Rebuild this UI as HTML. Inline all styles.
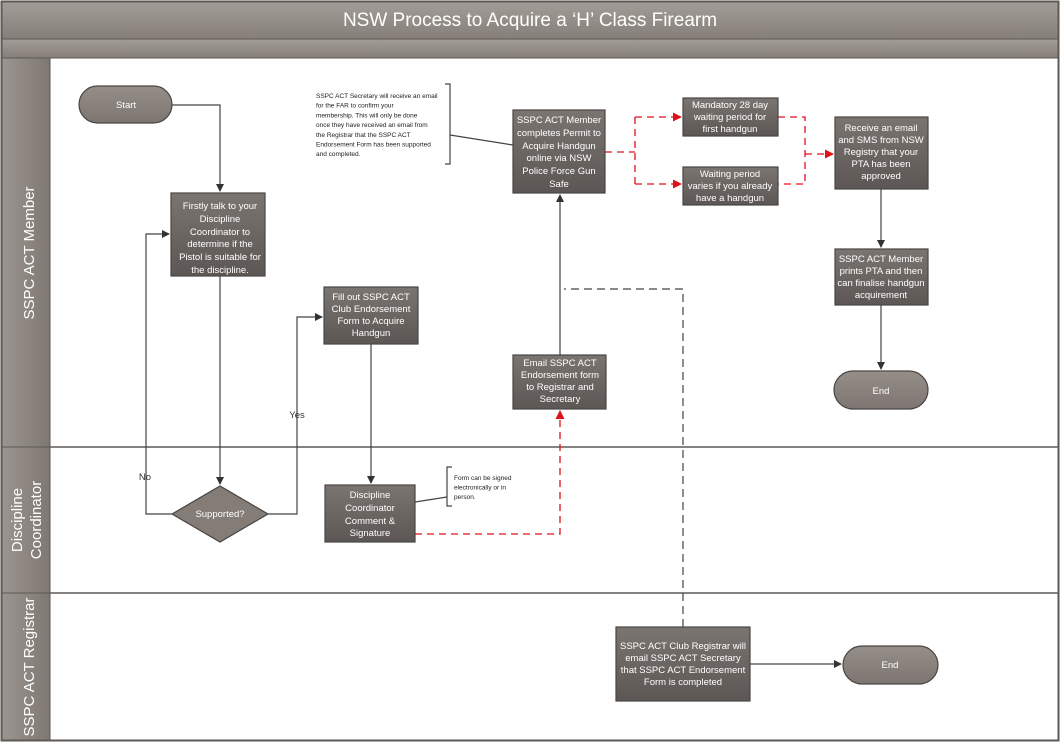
<!DOCTYPE html>
<html><head><meta charset="utf-8"><style>
html,body{margin:0;padding:0;background:#fff;}
svg{display:block;font-family:"Liberation Sans",sans-serif;}
.bt{fill:#fff;font-size:9.5px;text-anchor:middle;}
.an{fill:#222;font-size:6.5px;}
</style></head><body>
<svg width="1060" height="742" viewBox="0 0 1060 742" xmlns="http://www.w3.org/2000/svg">
<defs>
<linearGradient id="hd" x1="0" y1="0" x2="0" y2="1"><stop offset="0" stop-color="#a39d98"/><stop offset="1" stop-color="#857e79"/></linearGradient>
<linearGradient id="ln" x1="0" y1="0" x2="1" y2="0"><stop offset="0" stop-color="#9c958f"/><stop offset="1" stop-color="#7f7872"/></linearGradient>
<linearGradient id="bx" x1="0" y1="0" x2="0" y2="1"><stop offset="0" stop-color="#7b7571"/><stop offset="1" stop-color="#5c5754"/></linearGradient>
<linearGradient id="pl" x1="0" y1="0" x2="0" y2="1"><stop offset="0" stop-color="#958e89"/><stop offset="1" stop-color="#7c7570"/></linearGradient>
<marker id="a" markerWidth="8" markerHeight="8" refX="7" refY="4" orient="auto" markerUnits="userSpaceOnUse"><path d="M0,0 L8,4 L0,8z" fill="#333"/></marker>
<marker id="r" markerWidth="9" markerHeight="9" refX="8" refY="4.5" orient="auto" markerUnits="userSpaceOnUse"><path d="M0,0 L9,4.5 L0,9z" fill="#e0101a"/></marker>
</defs>
<rect x="1.5" y="1.5" width="1057" height="739" fill="#fff" stroke="#5e5955" stroke-width="2"/>
<rect x="2" y="2" width="1056" height="37" fill="url(#hd)" stroke="#5e5955"/>
<text x="530" y="26" fill="#fff" font-size="19" text-anchor="middle">NSW Process to Acquire a ‘H’ Class Firearm</text>
<rect x="2" y="39" width="1056" height="19" fill="url(#hd)" stroke="#5e5955"/>
<rect x="2" y="58" width="48" height="389" fill="url(#ln)" stroke="#5e5955"/>
<rect x="2" y="447" width="48" height="146" fill="url(#ln)" stroke="#5e5955"/>
<rect x="2" y="593" width="48" height="147" fill="url(#ln)" stroke="#5e5955"/>
<line x1="50" y1="447" x2="1058" y2="447" stroke="#5e5955" stroke-width="1.5"/>
<line x1="50" y1="593" x2="1058" y2="593" stroke="#5e5955" stroke-width="1.5"/>
<text transform="translate(34,253) rotate(-90)" fill="#fff" font-size="15" text-anchor="middle">SSPC ACT Member</text>
<text transform="translate(22,520) rotate(-90)" fill="#fff" font-size="15" text-anchor="middle">Discipline</text>
<text transform="translate(41,520) rotate(-90)" fill="#fff" font-size="15" text-anchor="middle">Coordinator</text>
<text transform="translate(34,667) rotate(-90)" fill="#fff" font-size="15" text-anchor="middle">SSPC ACT Registrar</text>

<!-- connectors -->
<g fill="none" stroke="#444" stroke-width="1.2">
<path d="M172,105 H220 V191" marker-end="url(#a)"/>
<path d="M220,276 V484" marker-end="url(#a)"/>
<path d="M172,514 H146 V234 H169" marker-end="url(#a)"/>
<path d="M268,514 H297 V317 H322" marker-end="url(#a)"/>
<path d="M371,344 V483" marker-end="url(#a)"/>
<path d="M560,355 V195" marker-end="url(#a)"/>
<path d="M881,189 V247" marker-end="url(#a)"/>
<path d="M881,305 V369" marker-end="url(#a)"/>
<path d="M750,664 H841" marker-end="url(#a)"/>
<path d="M450,135 L513,145"/>
<path d="M415,502 L447,497"/>
<path d="M445,84 H450 V164 H445"/>
<path d="M452,467 H447 V506 H452"/>
<path d="M683,627 V289 H564" stroke-dasharray="8,5"/>
</g>
<g fill="none" stroke="#e0101a" stroke-width="1.3" stroke-dasharray="7,5">
<path d="M415,534 H560 V411" marker-end="url(#r)"/>
<path d="M605,152 H635"/>
<path d="M635,117 V184"/>
<path d="M635,117 H681" marker-end="url(#r)"/>
<path d="M635,184 H681" marker-end="url(#r)"/>
<path d="M778,117 H805 V184 H778"/>
<path d="M805,154 H833" marker-end="url(#r)"/>
</g>
<text x="145" y="480" fill="#333" font-size="9.5" text-anchor="middle">No</text>
<text x="297" y="418" fill="#333" font-size="9.5" text-anchor="middle">Yes</text>

<!-- shapes -->
<g stroke="#4a4644" stroke-width="1.2">
<rect x="79" y="86" width="93" height="37" rx="18.5" fill="url(#pl)"/>
<rect x="834" y="371" width="94" height="38" rx="19" fill="url(#pl)"/>
<rect x="843" y="646" width="95" height="38" rx="19" fill="url(#pl)"/>
<rect x="171" y="193" width="94" height="83" fill="url(#bx)"/>
<path d="M172,514 L220,486 L268,514 L220,542z" fill="#837c77"/>
<rect x="324" y="287" width="94" height="57" fill="url(#bx)"/>
<rect x="325" y="485" width="90" height="57" fill="url(#bx)"/>
<rect x="513" y="355" width="93" height="54" fill="url(#bx)"/>
<rect x="513" y="110" width="92" height="83" fill="url(#bx)"/>
<rect x="683" y="98" width="95" height="38" fill="url(#bx)"/>
<rect x="683" y="167" width="95" height="38" fill="url(#bx)"/>
<rect x="835" y="117" width="93" height="72" fill="url(#bx)"/>
<rect x="835" y="249" width="93" height="56" fill="url(#bx)"/>
<rect x="616" y="627" width="134" height="74" fill="url(#bx)"/>
</g>
<text class="bt" x="126" y="108">Start</text>
<text class="bt" x="881" y="394">End</text>
<text class="bt" x="890" y="668">End</text>
<text class="bt" x="220" y="209">Firstly talk to your<tspan x="220" dy="13">Discipline</tspan><tspan x="220" dy="13">Coordinator to</tspan><tspan x="220" dy="12">determine if the</tspan><tspan x="220" dy="13">Pistol is suitable for</tspan><tspan x="220" dy="13">the discipline.</tspan></text>
<text class="bt" x="220" y="517">Supported?</text>
<text class="bt" x="371" y="300">Fill out SSPC ACT<tspan x="371" dy="12">Club Endorsement</tspan><tspan x="371" dy="12">Form to Acquire</tspan><tspan x="371" dy="12">Handgun</tspan></text>
<text class="bt" x="370" y="498">Discipline<tspan x="370" dy="13">Coordinator</tspan><tspan x="370" dy="13">Comment &amp;</tspan><tspan x="370" dy="12">Signature</tspan></text>
<text class="bt" x="560" y="366">Email SSPC ACT<tspan x="560" dy="12">Endorsement form</tspan><tspan x="560" dy="12">to Registrar and</tspan><tspan x="560" dy="12">Secretary</tspan></text>
<text class="bt" x="559" y="123">SSPC ACT Member<tspan x="559" dy="13">completes Permit to</tspan><tspan x="559" dy="13">Acquire Handgun</tspan><tspan x="559" dy="12">online via NSW</tspan><tspan x="559" dy="13">Police Force Gun</tspan><tspan x="559" dy="13">Safe</tspan></text>
<text class="bt" x="730" y="108">Mandatory 28 day<tspan x="730" dy="12">waiting period for</tspan><tspan x="730" dy="12">first handgun</tspan></text>
<text class="bt" x="730" y="177">Waiting period<tspan x="730" dy="12">varies  if you already</tspan><tspan x="730" dy="12">have a handgun</tspan></text>
<text class="bt" x="881" y="131">Receive an email<tspan x="881" dy="12">and SMS from NSW</tspan><tspan x="881" dy="12">Registry that your</tspan><tspan x="881" dy="12">PTA has been</tspan><tspan x="881" dy="12">approved</tspan></text>
<text class="bt" x="881" y="262">SSPC ACT Member<tspan x="881" dy="12">prints PTA  and then</tspan><tspan x="881" dy="12">can finalise handgun</tspan><tspan x="881" dy="12">acquirement</tspan></text>
<text class="bt" x="683" y="649">SSPC ACT Club Registrar will<tspan x="683" dy="12">email  SSPC ACT Secretary</tspan><tspan x="683" dy="12">that SSPC ACT Endorsement</tspan><tspan x="683" dy="12">Form is completed</tspan></text>
<text class="an" x="316" y="98">SSPC ACT Secretary will receive an email<tspan x="316" dy="9.7">for the FAR to confirm your</tspan><tspan x="316" dy="9.7">membership. This will only be done</tspan><tspan x="316" dy="9.7">once they have received an email from</tspan><tspan x="316" dy="9.7">the Registrar that the SSPC ACT</tspan><tspan x="316" dy="9.7">Endorsement Form has been supported</tspan><tspan x="316" dy="9.7">and completed.</tspan></text>
<text class="an" x="422" y="480" transform="translate(0,0)"><tspan x="454">Form can be signed</tspan><tspan x="454" dy="9.5">electronically or in</tspan><tspan x="454" dy="9.5">person.</tspan></text>
</svg>
</body></html>
